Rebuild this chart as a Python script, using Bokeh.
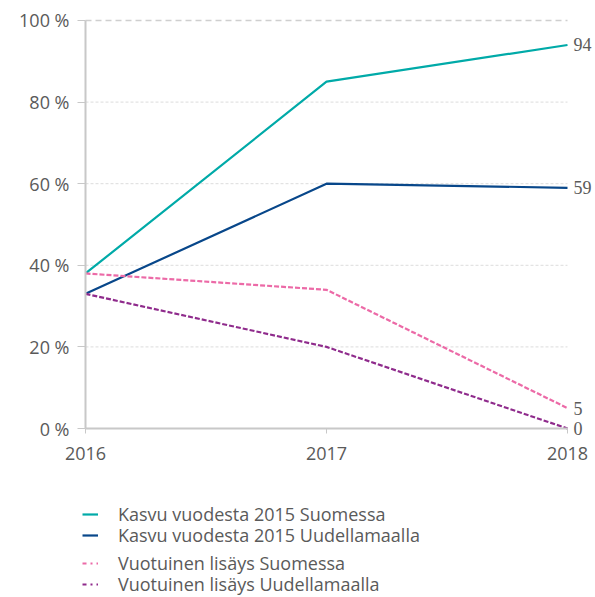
from bokeh.plotting import figure
from bokeh.models import (Range1d, PrintfTickFormatter, Legend, LegendItem, LabelSet,
                          ColumnDataSource, FixedTicker)
from bokeh.embed import file_html
from bokeh.resources import INLINE

years = [2016, 2017, 2018]
kasvu_suomi = [38, 85, 94]
kasvu_uusimaa = [33, 60, 59]
lisays_suomi = [38, 34, 5]
lisays_uusimaa = [33, 20, 0]
names = ["Kasvu vuodesta 2015 Suomessa", "Kasvu vuodesta 2015 Uudellamaalla",
         "Vuotuinen lisäys Suomessa", "Vuotuinen lisäys Uudellamaalla"]
colors = ["#00aaa8", "#08478a", "#ec6aa7", "#8f2b8c"]
y_ticks = [0, 20, 40, 60, 80, 100]

FONT = "Open Sans"
FS = "18px"
TXT = "#5a5a5a"
AX = "#c8c8c8"

# the frame covers the whole canvas; axes are pinned inside it so nothing is clipped
p = figure(width=595, height=597, output_backend="svg", toolbar_location=None,
           x_range=Range1d(2015.6473, 2018.1162), y_range=Range1d(-41.42, 104.9),
           min_border_left=0, min_border_right=0, min_border_top=0, min_border_bottom=0)
p.outline_line_color = None
p.background_fill_color = "white"
p.xgrid.grid_line_color = None
p.ygrid.grid_line_color = None

# axes
p.xaxis.ticker = FixedTicker(ticks=years)
p.xaxis.bounds = (years[0], years[-1])
p.xaxis.fixed_location = y_ticks[0]
p.yaxis.ticker = FixedTicker(ticks=y_ticks)
p.yaxis.bounds = (y_ticks[0], y_ticks[-1])
p.yaxis.fixed_location = years[0]
p.yaxis.formatter = PrintfTickFormatter(format="%d %%")
for ax in (p.xaxis[0], p.yaxis[0]):
    ax.axis_line_color = AX
    ax.axis_line_width = 2
    ax.major_tick_line_color = AX
    ax.major_tick_line_width = 1
    ax.major_tick_in = 0
    ax.minor_tick_line_color = None
    ax.major_label_text_font = FONT
    ax.major_label_text_font_size = FS
    ax.major_label_text_color = TXT
p.yaxis.major_tick_out = 8
p.yaxis.major_label_standoff = 8
p.xaxis.major_tick_out = 5
p.xaxis.major_label_standoff = 13

# horizontal grid lines, limited to the data span
inner = y_ticks[1:-1]
p.segment(x0=[years[0]] * len(inner), x1=[years[-1]] * len(inner),
          y0=inner, y1=inner, line_color="#dcdcdc", line_width=1,
          line_dash="3 2", level="underlay")
p.segment(x0=[years[0]], x1=[years[-1]], y0=[y_ticks[-1]], y1=[y_ticks[-1]],
          line_color="#cfcfcf", line_width=1.3, line_dash="6 4", level="underlay")

series = [kasvu_suomi, kasvu_uusimaa, lisays_suomi, lisays_uusimaa]
dashes = ["solid", "solid", "5 2", "5 2"]
legend_renderers = []
nan = float("nan")
for vals, col, dash in zip(series, colors, dashes):
    p.line(years, vals, line_color=col, line_width=2.2, line_dash=dash)
    lr = p.line([years[0]], [nan], line_color=col, line_width=2.2,
                line_dash="solid" if dash == "solid" else "4 4 2 4")
    legend_renderers.append(lr)

# end labels
end_src = ColumnDataSource(dict(x=[years[-1]] * 4,
                                y=[s[-1] for s in series],
                                t=[str(s[-1]) for s in series]))
p.add_layout(LabelSet(x="x", y="y", text="t", source=end_src, x_offset=6,
                      text_baseline="middle", text_font=FONT, text_font_size=FS,
                      text_color=TXT))

legend_pos = [(82, 70), (82, 49), (82, 21), (82, 0)]
for i, loc in enumerate(legend_pos):
    leg = Legend(items=[LegendItem(label=names[i], renderers=[legend_renderers[i]])],
                 location=loc, orientation="vertical",
                 glyph_width=16, glyph_height=26, label_height=26, spacing=0,
                 label_standoff=20, padding=0, margin=0,
                 border_line_color=None, background_fill_alpha=0,
                 label_text_font=FONT, label_text_font_size=FS,
                 label_text_color=TXT)
    p.add_layout(leg)

open("out.html", "w").write(file_html(p, INLINE))
